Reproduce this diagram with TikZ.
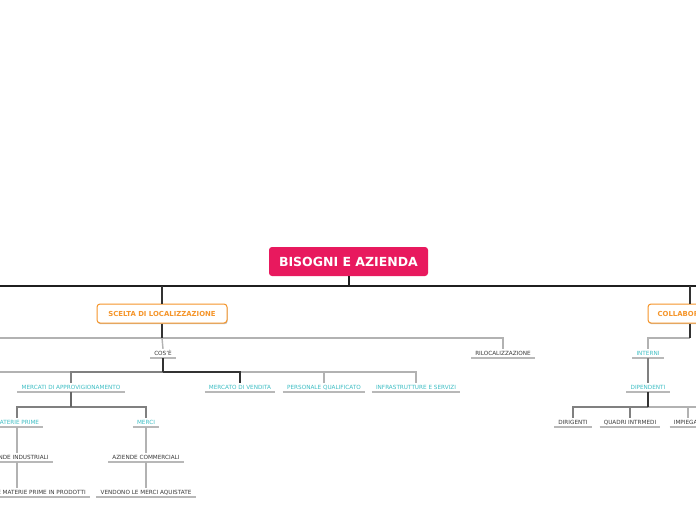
\documentclass[tikz,border=0pt]{standalone}
\usepackage{fontspec}
\setmainfont{DejaVu Sans}
\usetikzlibrary{shadows}
\definecolor{rootpink}{HTML}{E8195E}
\definecolor{orng}{HTML}{F5952A}
\definecolor{tealtxt}{HTML}{3DBEC4}
\definecolor{txtgray}{HTML}{3A3A3A}
\begin{document}
\begin{tikzpicture}[x=1pt,y=-1pt,
  rootbox/.style={fill=rootpink, rounded corners=3pt, minimum width=159pt, minimum height=29pt, text=white, font=\fontsize{12.5}{12.5}\selectfont\bfseries, inner sep=0pt},
  mainbox/.style={draw=orng, line width=1pt, fill=white, rounded corners=3pt, minimum height=19pt, text=orng, font=\fontsize{6.9}{6.9}\selectfont\bfseries, inner sep=0pt, drop shadow={shadow xshift=0.6pt, shadow yshift=-1.2pt, opacity=0.25, fill=black}},
  leaf/.style={anchor=south, font=\fontsize{5.7}{5.7}\selectfont, text=txtgray, inner xsep=4pt, inner ysep=2.3pt, text height=4.2pt, text depth=0pt},
  tleaf/.style={leaf, text=tealtxt},
  uline/.style={draw=black!28, line width=1.2pt},
  busline/.style={draw=black!88, line width=2pt},
  darkline/.style={draw=black!80, line width=1.2pt},
  midline/.style={draw=black!50, line width=1.3pt},
  lightline/.style={draw=black!30, line width=1.4pt},
]
\clip (0,0) rectangle (696,520);
\fill[white] (0,0) rectangle (696,520);

% coordinates of the buses
\coordinate (mainL) at (-5,286);
\coordinate (mainR) at (706,286);
\coordinate (busA) at (-5,338);
\coordinate (busB) at (-5,372);
\coordinate (busC) at (0,407);

% nodes
\node[rootbox] (root) at (348.5,261.5) {BISOGNI E AZIENDA};
\node[mainbox, minimum width=130pt] (scelta) at (162,313.5) {SCELTA DI LOCALIZZAZIONE};
\node[mainbox, minimum width=84pt] (collab) at (690,313.5) {COLLABORATORI};

\node[leaf] (cose) at (163,358) {COS'È};
\node[leaf] (riloc) at (503,358) {RILOCALIZZAZIONE};
\node[tleaf] (interni) at (648,358) {INTERNI};

\node[tleaf] (mercati) at (71,392) {MERCATI DI APPROVIGIONAMENTO};
\node[tleaf] (vendita) at (240,392) {MERCATO DI VENDITA};
\node[tleaf] (personale) at (324,392) {PERSONALE QUALIFICATO};
\node[tleaf] (infra) at (416,392) {INFRASTRUTTURE E SERVIZI};
\node[tleaf] (dipendenti) at (648,392) {DIPENDENTI};

\node[tleaf] (materie) at (17,427) {MATERIE PRIME};
\node[tleaf] (merci) at (146,427) {MERCI};
\node[leaf] (dirigenti) at (573,427) {DIRIGENTI};
\node[leaf] (quadri) at (630,427) {QUADRI INTRMEDI};
\node[leaf] (impiegati) at (688,427) {IMPIEGATI};

\node[leaf] (aziind) at (17,462) {AZIENDE INDUSTRIALI};
\node[leaf] (azcom) at (146,462) {AZIENDE COMMERCIALI};
\node[leaf] (trasf) at (17,497) {TRASFORMANO LE MATERIE PRIME IN PRODOTTI};
\node[leaf] (vendono) at (146,497) {VENDONO LE MERCI AQUISTATE};

% underlines
\foreach \n in {cose,riloc,interni,mercati,vendita,personale,infra,dipendenti,materie,merci,dirigenti,quadri,impiegati,aziind,azcom,trasf,vendono}
  \draw[uline] (\n.south west) -- (\n.south east);

% main bus
\draw[busline] (mainL) -- (mainR);
\draw[busline] (root.south) -- (root.south |- mainL);
\draw[darkline, line width=1.4pt] (scelta.north |- mainL) -- (scelta.north);
\draw[darkline, line width=1.4pt, rounded corners=3pt] (collab.north |- mainL) -- (collab.north);

% under SCELTA
\draw[lightline] (busA) -- (riloc.north |- busA) -- (riloc.north);
\draw[lightline] (scelta.south |- busA) -- (cose.north);
\draw[darkline] (scelta.south) -- (scelta.south |- busA);

% under COLLABORATORI
\draw[lightline] (collab.south |- busA) -| (interni.north);
\draw[darkline] (collab.south) -- (collab.south |- busA);
\draw[midline] (interni.south) -- (dipendenti.north);

% under COS'E
\draw[lightline] (cose.south |- busB) -- (busB);
\draw[lightline] (cose.south |- busB) -| (infra.north);
\draw[lightline] (cose.south |- busB) -| (personale.north);
\draw[midline] (cose.south |- busB) -| (mercati.north);
\draw[darkline] (cose.south |- busB) -| (vendita.north);
\draw[darkline] (cose.south) -- (cose.south |- busB);

% under MERCATI
\draw[midline] (mercati.south |- busC) -| (materie.north);
\draw[midline] (mercati.south |- busC) -| (merci.north);
\draw[darkline, draw=black!60] (mercati.south) -- (mercati.south |- busC);
\draw[lightline] (materie.south) -- (aziind.north);
\draw[lightline] (aziind.south) -- (trasf.north);
\draw[lightline] (merci.south) -- (azcom.north);
\draw[lightline] (azcom.south) -- (vendono.north);

% under DIPENDENTI
\draw[midline] (dipendenti.south |- busC) -| (dirigenti.north);
\draw[midline] (dipendenti.south |- busC) -| (quadri.north);
\draw[lightline] (dipendenti.south |- busC) -| (impiegati.north);
\draw[lightline] (impiegati.north |- busC) -- ++(20,0);
\draw[darkline] (dipendenti.south) -- (dipendenti.south |- busC);
\end{tikzpicture}
\end{document}
